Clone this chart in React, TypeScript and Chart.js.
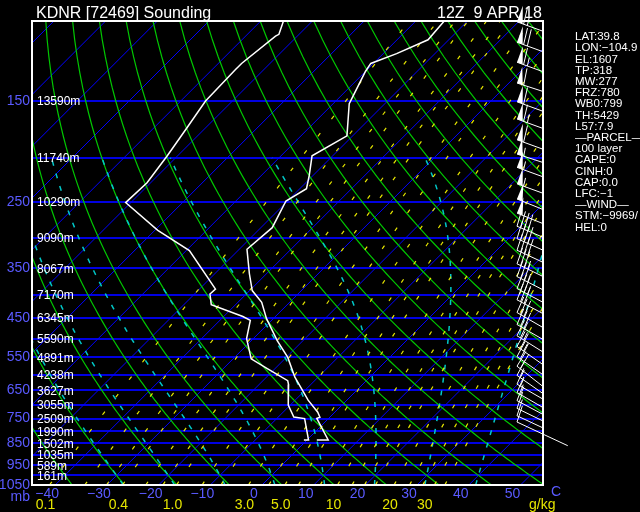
import React, { useEffect, useRef } from "react";
import { Chart, registerables } from "chart.js";

Chart.register(...registerables);

// ---------------- data ----------------
const TITLE_LEFT = "KDNR [72469] Sounding";
const TITLE_RIGHT = "12Z  9 APR 18";

const PRESSURE_TICKS = [150, 250, 350, 450, 550, 650, 750, 850, 950, 1050];
const PRESSURE_LINES = [100, 150, 200, 250, 300, 350, 400, 450, 500, 550, 600, 650, 700, 750, 800, 850, 900, 950, 1000, 1050];
const HEIGHT_LEVELS = [150, 200, 250, 300, 350, 400, 450, 500, 550, 600, 650, 700, 750, 800, 850, 900, 950, 1000];
const HEIGHT_LABELS = ["13590m", "11740m", "10290m", "9090m", "8067m", "7170m", "6345m", "5590m", "4891m", "4238m", "3627m", "3055m", "2509m", "1990m", "1502m", "1035m", "589m", "161m"];
const TEMP_TICKS = [-40, -30, -20, -10, 0, 10, 20, 30, 40, 50];

const ISOTHERMS = [-140, -130, -120, -110, -100, -90, -80, -70, -60, -50, -40, -30, -20, -10, 0, 10, 20, 30, 40, 50, 60];
const DRY_ADIABATS_T1000 = [-60, -50, -40, -30, -20, -10, 0, 10, 20, 30, 40, 50, 60, 70, 80, 90, 100, 110, 120, 130, 140, 150, 160, 170, 180, 190, 200];
const MOIST_ADIABATS_TW = [-30, -20, -10, 0, 10, 20, 30, 40];
const MIXING_RATIOS = [0.1, 0.2, 0.3, 0.4, 0.6, 0.8, 1, 1.5, 2, 3, 4, 5, 6, 8, 10, 12, 14, 16, 20, 24, 28, 32, 36];
const MIXING_LABEL_VALUES = [0.1, 0.4, 1, 3, 5, 10, 20, 30];
const MIXING_LABEL_TEXT = ["0.1", "0.4", "1.0", "3.0", "5.0", "10", "20", "30"];

// sounding: temperature
const T_PRES = [100, 110, 118, 124, 129, 148, 152, 179, 198, 219, 234, 249, 285, 318, 360, 392, 416, 452, 505, 550, 608, 683, 726, 745, 749, 836, 836];
const T_VALS = [-54.5, -54.0, -57.4, -60.5, -60.0, -57.4, -56.9, -51.1, -54.0, -50.7, -48.7, -50.3, -47.8, -48.5, -43.3, -39.5, -35.4, -31.3, -25.0, -19.7, -14.5, -7.5, -3.3, -1.9, -2.3, 4.1, 1.9];
// sounding: dewpoint
const TD_PRES = [100, 107, 108, 124, 128, 150, 172, 198, 227, 251, 289, 320, 389, 399, 421, 447, 456, 500, 554, 582, 619, 631, 700, 744, 750, 836, 836];
const TD_VALS = [-85.6, -83.9, -84.2, -85.5, -85.5, -85.2, -83.6, -82.0, -80.7, -81.0, -69.4, -59.4, -46.9, -47.0, -44.7, -36.3, -34.1, -31.3, -26.5, -21.5, -15.2, -14.3, -10.4, -7.0, -4.6, 0.3, -0.6];

// winds (direction deg, speed kt)
const WIND_PRES = [110, 122, 135, 150, 165, 180, 200, 215, 230, 250, 270, 290, 310, 330, 350, 375, 400, 425, 450, 480, 510, 540, 570, 600, 630, 660, 690, 720, 750, 780, 810, 836];
const WIND_DIR = [290, 290, 290, 288, 290, 290, 290, 288, 290, 290, 292, 292, 293, 294, 295, 296, 297, 298, 298, 300, 300, 302, 305, 305, 308, 305, 300, 300, 298, 296, 295, 295];
const WIND_SPD = [65, 70, 65, 60, 60, 65, 60, 55, 55, 55, 50, 50, 40, 40, 40, 35, 35, 35, 30, 30, 30, 25, 25, 20, 20, 15, 15, 15, 10, 10, 10, 10];

const INFO_LINES = ["LAT:39.8", "LON:\u2212104.9", "EL:1607", "TP:318", "MW:277", "FRZ:780", "WB0:799", "TH:5429", "L57:7.9", "\u2014PARCEL\u2014", "100 layer", "CAPE:0", "CINH:0", "CAP:0.0", "LFC:\u22121", "\u2014WIND\u2014", "STM:\u22129969/", "HEL:0"];

// ---------------- geometry / styles ----------------
const X_MIN = -44.49;
const X_MAX = 54.35;
const P_TOP = 100;
const P_BOT = 1050;
const SKEW = 38.17; // deg C per unit ln(p) => 45 degree isotherms
const FONT = "'Liberation Sans', Arial, sans-serif";
const LABEL_BLUE = "rgb(90,90,255)";
const YELLOW = "rgb(230,230,0)";

const skewX = (t: number, p: number) => t + SKEW * Math.log(P_BOT / p);

const RD = 287.04, CP = 1005.7, LV = 2.501e6, EPS = 0.622, KAPPA = RD / CP;
const esat = (tc: number) => 6.112 * Math.exp((17.67 * tc) / (tc + 243.5));
const dewFromMix = (wg: number, p: number) => {
  const w = wg / 1000;
  const e = (w * p) / (EPS + w);
  const l = Math.log(e / 6.112);
  return (243.5 * l) / (17.67 - l);
};
const dryT = (t1000: number, p: number) => (t1000 + 273.15) * Math.pow(p / 1000, KAPPA) - 273.15;
const lapse = (p: number, tk: number) => {
  const es = esat(tk - 273.15);
  const rs = (EPS * es) / (p - es);
  return (RD * tk + LV * rs) / (p * (CP + (LV * LV * rs * EPS) / (RD * tk * tk)));
};
const rk = (p: number, tk: number, dp: number) => {
  const k1 = lapse(p, tk);
  const k2 = lapse(p + dp / 2, tk + (k1 * dp) / 2);
  const k3 = lapse(p + dp / 2, tk + (k2 * dp) / 2);
  const k4 = lapse(p + dp, tk + k3 * dp);
  return tk + (dp * (k1 + 2 * k2 + 2 * k3 + k4)) / 6;
};
const moistPath = (tw: number): [number, number][] => {
  const down: [number, number][] = [[1000, tw + 273.15]];
  let p = 1000;
  let tk = tw + 273.15;
  while (p < P_BOT) {
    tk = rk(p, tk, 5);
    p += 5;
    down.push([p, tk]);
  }
  const up: [number, number][] = [];
  p = 1000;
  tk = tw + 273.15;
  while (p > 200) {
    tk = rk(p, tk, -5);
    p -= 5;
    up.push([p, tk]);
  }
  return [...down.reverse(), ...up].map(([pp, t]) => [pp, t - 273.15] as [number, number]);
};

// barb drawn from its feathered tip (tx,ty); staff runs downwind from the tip
function drawBarb(ctx: CanvasRenderingContext2D, tx: number, ty: number, dir: number, spd: number) {
  const STAFF = 56, FEATHER = 17, SPACE = 4;
  const r = (dir * Math.PI) / 180;
  const ux = Math.sin(r), uy = -Math.cos(r);
  const nx = -uy, ny = ux;
  const sx = tx - ux * STAFF, sy = ty - uy * STAFF;
  ctx.beginPath();
  ctx.moveTo(sx, sy);
  ctx.lineTo(tx, ty);
  ctx.stroke();
  let s = Math.round(spd / 5) * 5;
  let pos = 0;
  while (s >= 50) {
    const bx = tx - ux * pos, by = ty - uy * pos;
    const ex = tx - ux * (pos + 6), ey = ty - uy * (pos + 6);
    ctx.beginPath();
    ctx.moveTo(bx, by);
    ctx.lineTo(bx + nx * FEATHER, by + ny * FEATHER);
    ctx.lineTo(ex, ey);
    ctx.closePath();
    ctx.fill();
    pos += 7;
    s -= 50;
  }
  while (s >= 10) {
    const bx = tx - ux * pos, by = ty - uy * pos;
    ctx.beginPath();
    ctx.moveTo(bx, by);
    ctx.lineTo(bx + nx * FEATHER + ux * 2, by + ny * FEATHER + uy * 2);
    ctx.stroke();
    pos += SPACE;
    s -= 10;
  }
  if (s >= 5) {
    if (pos === 0) pos = SPACE;
    const bx = tx - ux * pos, by = ty - uy * pos;
    ctx.beginPath();
    ctx.moveTo(bx, by);
    ctx.lineTo(bx + (nx * FEATHER) / 2 + ux, by + (ny * FEATHER) / 2 + uy);
    ctx.stroke();
  }
}

const skewPlugin = {
  id: "skewT",
  beforeDraw(chart: any) {
    const ctx = chart.ctx as CanvasRenderingContext2D;
    ctx.save();
    ctx.fillStyle = "#000";
    ctx.fillRect(0, 0, chart.width, chart.height);
    ctx.restore();
  },
  beforeDatasetsDraw(chart: any) {
    const ctx = chart.ctx as CanvasRenderingContext2D;
    const a = chart.chartArea;
    const xs = chart.scales.x, ys = chart.scales.y;
    const px = (t: number, p: number) => xs.getPixelForValue(skewX(t, p));
    const py = (p: number) => ys.getPixelForValue(p);
    const samples: number[] = [];
    for (let p = P_BOT; p >= P_TOP; p -= 10) samples.push(p);

    ctx.save();
    ctx.beginPath();
    ctx.rect(a.left, a.top, a.right - a.left, a.bottom - a.top);
    ctx.clip();

    // pressure lines
    ctx.strokeStyle = "rgb(0,0,225)";
    ctx.lineWidth = 2;
    PRESSURE_LINES.forEach((p) => {
      const y = Math.round(py(p));
      ctx.beginPath();
      ctx.moveTo(a.left, y);
      ctx.lineTo(a.right, y);
      ctx.stroke();
    });

    // isotherms
    ctx.strokeStyle = "rgb(0,0,255)";
    ctx.lineWidth = 1;
    ISOTHERMS.forEach((t) => {
      ctx.beginPath();
      ctx.moveTo(px(t, P_BOT), py(P_BOT));
      ctx.lineTo(px(t, P_TOP), py(P_TOP));
      ctx.stroke();
    });

    // dry adiabats
    ctx.strokeStyle = "rgb(0,200,0)";
    ctx.lineWidth = 1.2;
    DRY_ADIABATS_T1000.forEach((t0) => {
      ctx.beginPath();
      samples.forEach((p, i) => {
        const x = px(dryT(t0, p), p), y = py(p);
        if (i === 0) ctx.moveTo(x, y);
        else ctx.lineTo(x, y);
      });
      ctx.stroke();
    });

    // moist adiabats
    ctx.strokeStyle = "rgb(0,200,200)";
    ctx.lineWidth = 1.5;
    ctx.setLineDash([5, 8]);
    MOIST_ADIABATS_TW.forEach((tw) => {
      const path = moistPath(tw);
      ctx.beginPath();
      path.forEach(([p, t], i) => {
        const x = px(t, p), y = py(p);
        if (i === 0) ctx.moveTo(x, y);
        else ctx.lineTo(x, y);
      });
      ctx.stroke();
    });

    // mixing ratio lines
    ctx.strokeStyle = YELLOW;
    ctx.lineWidth = 1.2;
    ctx.setLineDash([4, 18]);
    MIXING_RATIOS.forEach((w) => {
      ctx.beginPath();
      samples.forEach((p, i) => {
        const x = px(dewFromMix(w, p), p), y = py(p);
        if (i === 0) ctx.moveTo(x, y);
        else ctx.lineTo(x, y);
      });
      ctx.stroke();
    });
    ctx.setLineDash([]);
    ctx.restore();
  },
  afterDatasetsDraw(chart: any) {
    const ctx = chart.ctx as CanvasRenderingContext2D;
    const a = chart.chartArea;
    const xs = chart.scales.x, ys = chart.scales.y;
    const py = (p: number) => ys.getPixelForValue(p);

    ctx.save();
    // border
    ctx.strokeStyle = "#fff";
    ctx.lineWidth = 2;
    ctx.strokeRect(a.left, a.top, a.right - a.left, a.bottom - a.top);

    // height labels
    ctx.fillStyle = "#fff";
    ctx.font = `12px ${FONT}`;
    ctx.textAlign = "left";
    ctx.textBaseline = "middle";
    HEIGHT_LEVELS.forEach((p, i) => ctx.fillText(HEIGHT_LABELS[i], a.left + 5, py(p) + 1));

    // titles
    ctx.font = `16px ${FONT}`;
    ctx.textBaseline = "alphabetic";
    ctx.fillText(TITLE_LEFT, 36, 18);
    ctx.fillText(TITLE_RIGHT, 437, 18);

    // info panel
    ctx.font = `11.5px ${FONT}`;
    ctx.textBaseline = "middle";
    INFO_LINES.forEach((s, i) => ctx.fillText(s, 575, 37 + i * 11.2));

    // bottom extra labels
    ctx.font = `14px ${FONT}`;
    ctx.fillStyle = LABEL_BLUE;
    ctx.textAlign = "right";
    ctx.fillText("mb", 30, 497);
    ctx.textAlign = "center";
    ctx.fillText("C", 556, 492);
    ctx.fillStyle = YELLOW;
    MIXING_LABEL_VALUES.forEach((w, i) => {
      const x = xs.getPixelForValue(skewX(dewFromMix(w, P_BOT), P_BOT)) - 4;
      ctx.fillText(MIXING_LABEL_TEXT[i], x, 505);
    });
    ctx.textAlign = "left";
    ctx.fillText("g/kg", 529, 505);

    // wind barbs
    ctx.strokeStyle = "#fff";
    ctx.fillStyle = "#fff";
    ctx.lineWidth = 1;
    const last = WIND_PRES.length - 1;
    WIND_PRES.forEach((p, i) => {
      ctx.save();
      if (i !== last) {
        ctx.beginPath();
        ctx.rect(0, 0, a.right, chart.height);
        ctx.clip();
      }
      drawBarb(ctx, a.right - 26, py(p) - 18, WIND_DIR[i], WIND_SPD[i]);
      ctx.restore();
    });
    ctx.restore();
  },
};

export default function App() {
  const ref = useRef<HTMLCanvasElement | null>(null);
  useEffect(() => {
    document.body.style.margin = "0";
    document.body.style.background = "#000";
    const canvas = ref.current;
    if (!canvas) return;
    const mk = (pres: number[], vals: number[]) => pres.map((p, i) => ({ x: skewX(vals[i], p), y: p }));
    const chart = new Chart(canvas, {
      type: "scatter",
      data: {
        datasets: [
          { label: "Temperature", data: mk(T_PRES, T_VALS), showLine: true, borderColor: "#fff", borderWidth: 1.5, pointRadius: 0, tension: 0 },
          { label: "Dewpoint", data: mk(TD_PRES, TD_VALS), showLine: true, borderColor: "#fff", borderWidth: 1.5, pointRadius: 0, tension: 0 },
        ],
      },
      options: {
        responsive: false,
        animation: false,
        events: [],
        layout: { padding: { left: 0, top: 21, right: 97, bottom: 0 } },
        plugins: { legend: { display: false }, tooltip: { enabled: false } },
        scales: {
          x: {
            type: "linear",
            min: X_MIN,
            max: X_MAX,
            afterBuildTicks: (s: any) => {
              s.ticks = TEMP_TICKS.map((v) => ({ value: v }));
            },
            afterFit: (s: any) => {
              s.height = 27;
            },
            grid: { display: false, drawTicks: false },
            border: { display: false },
            ticks: {
              color: LABEL_BLUE,
              font: { family: FONT, size: 14 },
              labelOffset: -8,
              padding: 1,
              maxRotation: 0,
              autoSkip: false,
              callback: (v: any) => String(v).replace("-", "\u2212"),
            },
          },
          y: {
            type: "logarithmic",
            reverse: true,
            min: P_TOP,
            max: P_BOT,
            afterBuildTicks: (s: any) => {
              s.ticks = PRESSURE_TICKS.map((v) => ({ value: v }));
            },
            afterFit: (s: any) => {
              s.width = 32;
            },
            grid: { display: false, drawTicks: false },
            border: { display: false },
            ticks: {
              color: LABEL_BLUE,
              font: { family: FONT, size: 14 },
              padding: 2,
              autoSkip: false,
              callback: (v: any) => String(v),
            },
          },
        },
      },
      plugins: [skewPlugin],
    } as any);
    return () => chart.destroy();
  }, []);
  return (
    <div style={{ width: 640, height: 512, background: "#000" }}>
      <canvas ref={ref} width={640} height={512} style={{ display: "block" }} />
    </div>
  );
}
